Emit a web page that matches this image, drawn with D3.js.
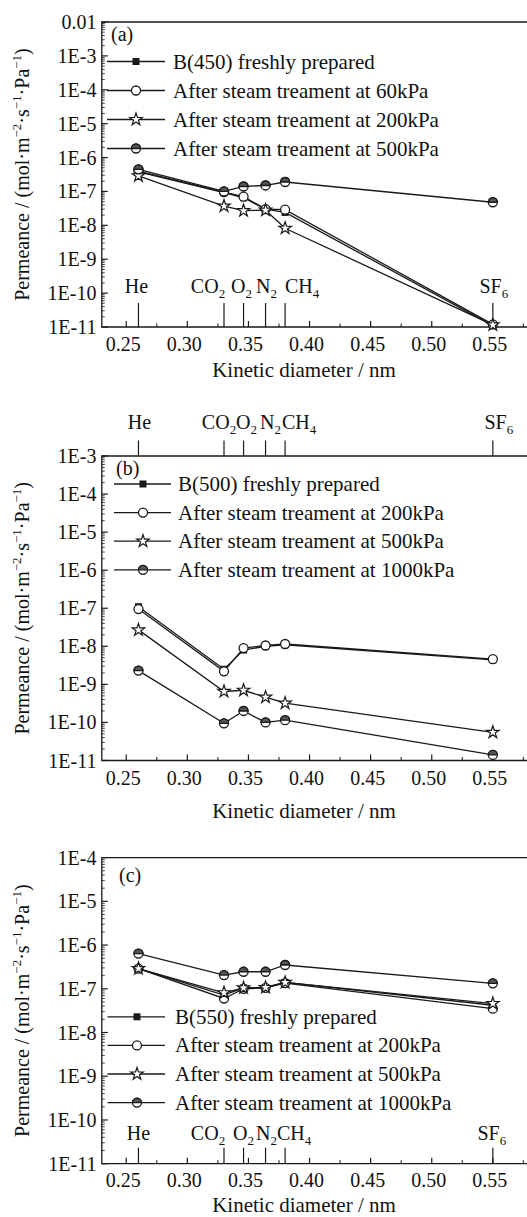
<!DOCTYPE html>
<html>
<head>
<meta charset="utf-8">
<script src="https://cdn.jsdelivr.net/npm/d3@7"></script>
<style>
  body { margin: 0; background: #fff; }
  svg { display: block; }
  svg text { font-family: "Liberation Serif", "Times New Roman", Times, serif; fill: #111; }
</style>
</head>
<body>
<div id="chart"></div>
<script>
// gases and their kinetic diameters (nm)
var gases = ["He", "CO2", "O2", "N2", "CH4", "SF6"];
var diameters = [0.26, 0.33, 0.346, 0.364, 0.38, 0.55];
var xTicks = [0.25, 0.30, 0.35, 0.40, 0.45, 0.50, 0.55];

// panel (a) - B(450)
var aLabels = ["B(450) freshly prepared", "After steam treament at 60kPa",
               "After steam treament at 200kPa", "After steam treament at 500kPa"];
var aFresh = [3.8e-7, 9.2e-8, 6.5e-8, 3.0e-8, 2.4e-8, 1.1e-11];
var a60    = [4.0e-7, 9.5e-8, 7.0e-8, 3.0e-8, 2.9e-8, 1.2e-11];
var a200   = [2.9e-7, 3.7e-8, 2.7e-8, 2.8e-8, 8.2e-9, 1.15e-11];
var a500   = [4.5e-7, 1.0e-7, 1.4e-7, 1.5e-7, 1.9e-7, 4.8e-8];

// panel (b) - B(500)
var bLabels = ["B(500) freshly prepared", "After steam treament at 200kPa",
               "After steam treament at 500kPa", "After steam treament at 1000kPa"];
var bFresh = [1.1e-7, 2.5e-9, 8.0e-9, 1.0e-8, 1.1e-8, 4.4e-9];
var b200   = [9.5e-8, 2.2e-9, 9.0e-9, 1.05e-8, 1.15e-8, 4.6e-9];
var b500   = [2.7e-8, 6.5e-10, 7.0e-10, 4.6e-10, 3.2e-10, 5.5e-11];
var b1000  = [2.3e-9, 9.5e-11, 2.0e-10, 1.0e-10, 1.15e-10, 1.4e-11];

// panel (c) - B(550)
var cLabels = ["B(550) freshly prepared", "After steam treament at 200kPa",
               "After steam treament at 500kPa", "After steam treament at 1000kPa"];
var cFresh = [2.9e-7, 7.2e-8, 1.05e-7, 1.07e-7, 1.4e-7, 4.2e-8];
var c200   = [2.9e-7, 6.0e-8, 1.0e-7, 1.05e-7, 1.35e-7, 3.5e-8];
var c500   = [2.9e-7, 8.1e-8, 1.05e-7, 1.07e-7, 1.4e-7, 4.6e-8];
var c1000  = [6.4e-7, 2.06e-7, 2.45e-7, 2.45e-7, 3.5e-7, 1.33e-7];

var symbols = ["square", "circle", "star", "half"];

// layout of the three stacked panels
var panels = [
  { tag: "(a)", tagX: 111, tagY: 41, top: 22, bottom: 327, yMax: 1e-2,
    series: [aFresh, a60, a200, a500], labels: aLabels,
    gasSide: "bottom", gasTick: 24, gasY: 293, gasDx: [-2, -16, -2, 1, 17, 1],
    legY: 61.5, legStep: 29, legX: [107, 165], legM: 136, legT: 173,
    tickY: 351, titleY: 377 },
  { tag: "(b)", tagX: 116, tagY: 475, top: 456, bottom: 760.5, yMax: 1e-3,
    series: [bFresh, b200, b500, b1000], labels: bLabels,
    gasSide: "top", gasTick: 15.5, gasY: 429, gasDx: [1, -5, 3, 5, 14, 6],
    legY: 484, legStep: 28.6, legX: [114, 171], legM: 143, legT: 178,
    tickY: 785, titleY: 818 },
  { tag: "(c)", tagX: 119, tagY: 882, top: 857.6, bottom: 1163.7, yMax: 1e-4,
    series: [cFresh, c200, c500, c1000], labels: cLabels,
    gasSide: "bottom", gasTick: 16, gasY: 1140, gasDx: [0, -16, 0, 1, 9, -1],
    legY: 1016.8, legStep: 28.6, legX: [107.5, 165], legM: 137, legT: 175,
    tickY: 1187, titleY: 1212 }
];

var svg = d3.select("#chart").append("svg")
  .attr("width", 527).attr("height", 1217)
  .attr("font-family", "'Liberation Serif', 'Times New Roman', serif");

var x = d3.scaleLinear().domain([0.23, 0.58]).range([101.8, 529.5]);
var line = "#1a1a1a";

// little helper: text with a subscript digit (CO2 -> CO + 2)
function gasText(sel, name) {
  var m = name.match(/^([A-Za-z]+)(\d*)$/);
  sel.append("tspan").text(m[1]);
  if (m[2]) sel.append("tspan").attr("font-size", "13px").attr("dy", 5).text(m[2]);
}

function drawMarker(g, kind, cx, cy) {
  if (kind === "square") {
    g.append("rect").attr("x", cx - 3.5).attr("y", cy - 3.5)
      .attr("width", 7).attr("height", 7).attr("fill", line);
  } else if (kind === "circle") {
    g.append("circle").attr("cx", cx).attr("cy", cy).attr("r", 4.5)
      .attr("fill", "#fff").attr("stroke", line).attr("stroke-width", 1.3);
  } else if (kind === "star") {
    g.append("path").attr("d", d3.symbol().type(d3.symbolStar).size(48)())
      .attr("transform", "translate(" + cx + "," + cy + ")")
      .attr("fill", "#fff").attr("stroke", line).attr("stroke-width", 1.2);
  } else {
    // half filled circle, upper half dark
    g.append("circle").attr("cx", cx).attr("cy", cy).attr("r", 4.5)
      .attr("fill", "#fff").attr("stroke", line).attr("stroke-width", 1.3);
    g.append("path")
      .attr("d", "M" + (cx - 4.5) + "," + cy + " A4.5,4.5 0 0 1 " + (cx + 4.5) + "," + cy + " Z")
      .attr("fill", "#555").attr("stroke", line).attr("stroke-width", 1.3);
  }
}

panels.forEach(function (p) {
  var g = svg.append("g");
  var y = d3.scaleLog().domain([1e-11, p.yMax]).range([p.bottom, p.top]);
  var x0 = x.range()[0], x1 = x.range()[1];

  // frame (left, bottom, top)
  g.append("path")
    .attr("d", "M" + x1 + "," + p.top + "H" + x0 + "V" + p.bottom + "H" + x1)
    .attr("fill", "none").attr("stroke", line).attr("stroke-width", 1.3);

  // y ticks - majors per decade and 2..9 minors, pointing inward
  var lo = -11, hi = Math.round(Math.log10(p.yMax));
  for (var e = lo; e <= hi; e++) {
    var yy = y(Math.pow(10, e));
    g.append("line").attr("x1", x0).attr("x2", x0 + 6).attr("y1", yy).attr("y2", yy)
      .attr("stroke", line).attr("stroke-width", 1.2);
    g.append("text").attr("x", 96.5).attr("y", yy + 7).attr("text-anchor", "end")
      .attr("font-size", "20px")
      .text(e === -2 ? "0.01" : "1E" + e);
    if (e < hi) {
      for (var k = 2; k <= 9; k++) {
        var ym = y(k * Math.pow(10, e));
        g.append("line").attr("x1", x0).attr("x2", x0 + 3).attr("y1", ym).attr("y2", ym)
          .attr("stroke", line).attr("stroke-width", 0.8);
      }
    }
  }

  // x ticks: majors every 0.05, minors in between
  xTicks.forEach(function (t) {
    g.append("line").attr("x1", x(t)).attr("x2", x(t)).attr("y1", p.bottom).attr("y2", p.bottom - 6)
      .attr("stroke", line).attr("stroke-width", 1.2);
    g.append("text").attr("x", x(t) - 3).attr("y", p.tickY).attr("text-anchor", "middle")
      .attr("font-size", "20px").text(d3.format(".2f")(t));
  });
  d3.range(0.275, 0.58, 0.05).forEach(function (t) {
    g.append("line").attr("x1", x(t)).attr("x2", x(t)).attr("y1", p.bottom).attr("y2", p.bottom - 3.5)
      .attr("stroke", line).attr("stroke-width", 1);
  });

  // gas markers along the diameter axis
  diameters.forEach(function (d, i) {
    var ya = p.gasSide === "bottom" ? p.bottom : p.top;
    var yb = p.gasSide === "bottom" ? p.bottom - p.gasTick : p.top - p.gasTick;
    g.append("line").attr("x1", x(d)).attr("x2", x(d)).attr("y1", ya).attr("y2", yb)
      .attr("stroke", line).attr("stroke-width", 1.2);
    var t = g.append("text").attr("x", x(d) + p.gasDx[i]).attr("y", p.gasY)
      .attr("text-anchor", "middle").attr("font-size", "20px");
    gasText(t, gases[i]);
  });

  // data series
  p.series.forEach(function (vals, si) {
    var pts = vals.map(function (v, i) { return [x(diameters[i]), y(v)]; });
    g.append("path").attr("d", d3.line()(pts))
      .attr("fill", "none").attr("stroke", line).attr("stroke-width", 1.3);
    pts.forEach(function (pt) { drawMarker(g, symbols[si], pt[0], pt[1]); });
  });

  // legend
  p.labels.forEach(function (lab, i) {
    var ly = p.legY + i * p.legStep;
    g.append("line").attr("x1", p.legX[0]).attr("x2", p.legX[1]).attr("y1", ly).attr("y2", ly)
      .attr("stroke", line).attr("stroke-width", 1.3);
    drawMarker(g, symbols[i], p.legM, ly);
    g.append("text").attr("x", p.legT).attr("y", ly + 7)
      .attr("font-size", "21px").text(lab);
  });

  g.append("text").attr("x", p.tagX).attr("y", p.tagY).attr("font-size", "20px").text(p.tag);

  // axis titles
  g.append("text").attr("x", 304).attr("y", p.titleY).attr("text-anchor", "middle")
    .attr("font-size", "21px").text("Kinetic diameter / nm");

  var yt = g.append("text")
    .attr("transform", "translate(29," + (p.top + p.bottom) / 2 + ") rotate(-90)")
    .attr("text-anchor", "middle").attr("font-size", "20px");
  yt.append("tspan").text("Permeance / (mol\u00b7m");
  yt.append("tspan").attr("font-size", "13px").attr("dy", -8).text("\u22122");
  yt.append("tspan").attr("dy", 8).text("\u00b7s");
  yt.append("tspan").attr("font-size", "13px").attr("dy", -8).text("\u22121");
  yt.append("tspan").attr("dy", 8).text("\u00b7Pa");
  yt.append("tspan").attr("font-size", "13px").attr("dy", -8).text("\u22121");
  yt.append("tspan").attr("dy", 8).text(")");
});
</script>
</body>
</html>
